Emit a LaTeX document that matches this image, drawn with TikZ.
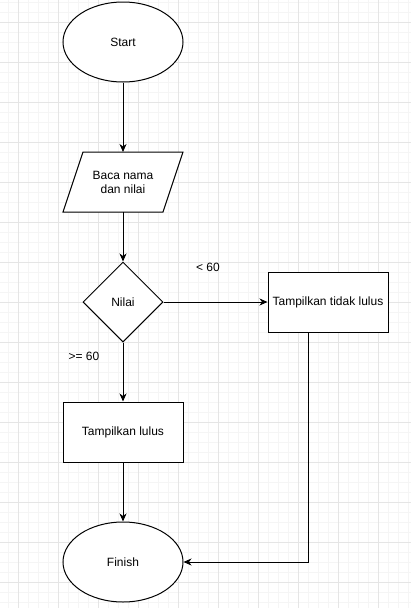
\documentclass[tikz,border=0pt]{standalone}
\usepackage{fontspec}
\setmainfont{Liberation Sans}
\usetikzlibrary{shapes.geometric,arrows.meta}
\begin{document}
\begin{tikzpicture}[x=1pt,y=-1pt,
  every node/.style={font=\fontsize{12}{14}\selectfont, align=center, inner sep=0pt},
  shp/.style={draw=black, line width=1pt, fill=white},
  conn/.style={draw=black, line width=1pt, -{Stealth[length=8pt,width=7pt,inset=2.5pt]}},
  lbl/.style={font=\fontsize{12}{14}\selectfont}
]
\useasboundingbox (0,0) rectangle (411,608);
\fill[white] (0,0) rectangle (411,608);
% minor grid
\foreach \x in {8,18,...,408} \draw[line width=0.5pt, black!4] (\x,0) -- (\x,608);
\foreach \y in {2,12,...,602} \draw[line width=0.5pt, black!4] (0,\y) -- (411,\y);
% major grid
\foreach \x in {18,58,...,398} \draw[line width=0.8pt, black!10] (\x,0) -- (\x,608);
\foreach \y in {22,62,...,582} \draw[line width=0.8pt, black!10] (0,\y) -- (411,\y);

\node[shp, ellipse, minimum width=120pt, minimum height=80pt] (start) at (123,42) {Start};
\draw[shp] (83,152) -- (183,152) -- (163,212) -- (63,212) -- cycle;
\node (baca) at (123,182) {Baca nama\\dan nilai};
\coordinate (bacatop) at (123,152);
\coordinate (bacabot) at (123,212);
\node[shp, diamond, aspect=1, minimum width=80pt, minimum height=80pt] (nilai) at (123,302) {Nilai};
\node[shp, rectangle, minimum width=120pt, minimum height=60pt] (tidak) at (328,302) {Tampilkan tidak lulus};
\node[shp, rectangle, minimum width=120pt, minimum height=60pt] (lulus) at (123,432) {Tampilkan lulus};
\node[shp, ellipse, minimum width=120pt, minimum height=80pt] (finish) at (123,562) {Finish};

\node[lbl] (lt) at (208,267) {< 60};
\node[lbl] (ge) at (84,356) {>= 60};

\draw[conn] (start.south) -- (bacatop);
\draw[conn] (bacabot) -- (nilai.north);
\draw[conn] (nilai.east) -- (tidak.west);
\draw[conn] (nilai.south) -- (lulus.north);
\draw[conn] (lulus.south) -- (finish.north);
\coordinate (tb) at (308,332);
\coordinate (corner) at (308,562);
\draw[conn] (tb) -- (corner) -- (finish.east);
\end{tikzpicture}
\end{document}
